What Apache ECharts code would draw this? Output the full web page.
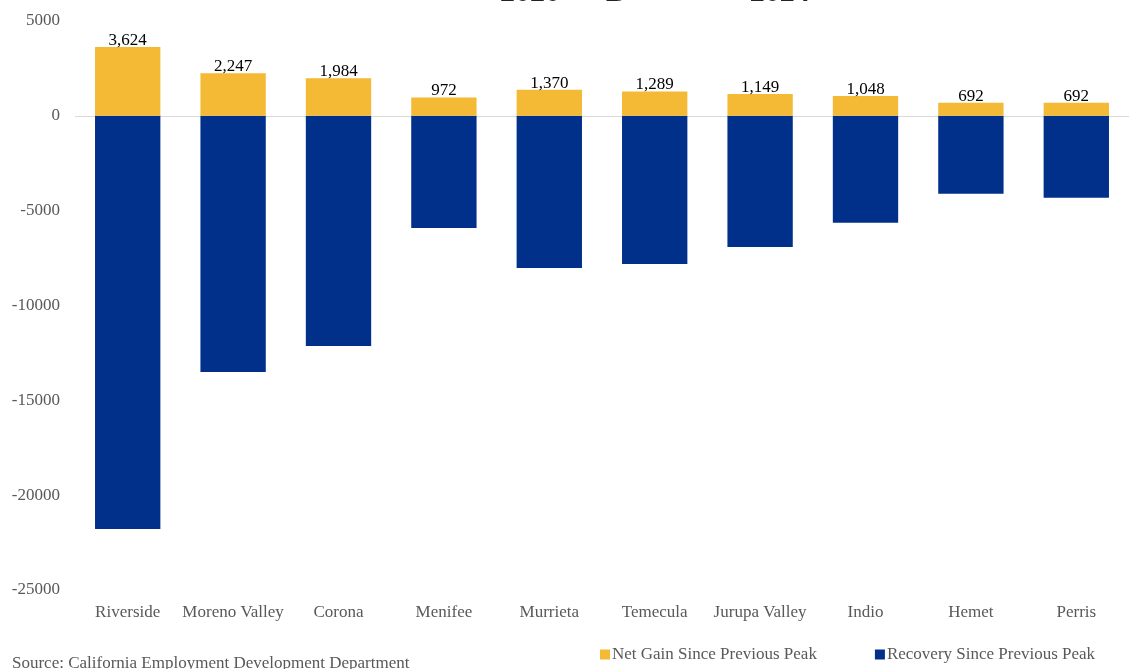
<!DOCTYPE html>
<html>
<head>
<meta charset="utf-8">
<script src="https://cdn.jsdelivr.net/npm/echarts@6/dist/echarts.min.js"></script>
<style>
  html, body { margin: 0; padding: 0; background: #fff; }
  #chart { width: 1129px; height: 669px; }
</style>
</head>
<body>
<div id="chart"></div>
<script>
// Cities ranked along the x axis
const cities = ['Riverside', 'Moreno Valley', 'Corona', 'Menifee', 'Murrieta', 'Temecula', 'Jurupa Valley', 'Indio', 'Hemet', 'Perris'];
// Jobs gained beyond the previous peak
const netGain = [3624, 2247, 1984, 972, 1370, 1289, 1149, 1048, 692, 692];
// Jobs recovered to get back to the previous peak (drawn below zero)
const recovery = [-21780, -13500, -12130, -5910, -8020, -7810, -6910, -5640, -4110, -4320];
// Value axis range
const yTicks = { min: -25000, max: 5000, step: 5000 };

const SERIF = '"Liberation Serif", "DejaVu Serif", serif';
const GOLD = '#F4B935';
const NAVY = '#00308A';
const GREY = '#595959';

const chart = echarts.init(document.getElementById('chart'));
chart.setOption({
  backgroundColor: '#ffffff',
  animation: false,
  title: {
    text: '{b|2020 }{s|TO }{b|D}{s|ECEMBER }{b|2024}',
    left: 495,
    top: -27,
    textStyle: {
      rich: {
        b: { fontFamily: SERIF, fontSize: 30, fontWeight: 'bold', color: '#222' },
        s: { fontFamily: SERIF, fontSize: 23, fontWeight: 'bold', color: '#222' }
      }
    }
  },
  grid: { left: 75, right: -15, top: 21, bottom: 79, containLabel: false },
  legend: {
    data: ['Net Gain Since Previous Peak', 'Recovery Since Previous Peak'],
    left: 595,
    top: 641,
    itemWidth: 10,
    itemHeight: 10,
    itemGap: 58,
    icon: 'rect',
    textStyle: { fontFamily: SERIF, fontSize: 17, color: GREY, padding: [0, 0, 0, -3] }
  },
  xAxis: {
    type: 'category',
    data: cities,
    axisLine: { show: false },
    axisTick: { show: false },
    axisLabel: { fontFamily: SERIF, fontSize: 17, color: GREY, margin: 14, interval: 0 },
    position: 'bottom'
  },
  yAxis: {
    type: 'value',
    min: yTicks.min,
    max: yTicks.max,
    interval: yTicks.step,
    axisLine: { show: false },
    axisTick: { show: false },
    splitLine: { show: false },
    axisLabel: { fontFamily: SERIF, fontSize: 17, color: GREY, margin: 15, padding: [3, 0, 0, 0], formatter: v => String(v) }
  },
  graphic: [
    {
      type: 'text',
      left: 12,
      top: 655,
      style: { text: 'Source: California Employment Development Department', fontFamily: SERIF, fontSize: 17, fill: GREY }
    }
  ],
  series: [
    {
      name: 'Recovery Since Previous Peak',
      type: 'bar',
      stack: 'jobs',
      data: recovery,
      barWidth: '62%',
      itemStyle: { color: NAVY },
      markLine: {
        silent: true,
        symbol: 'none',
        label: { show: false },
        lineStyle: { color: '#D9D9D9', type: 'solid', width: 1 },
        data: [{ yAxis: 0 }],
        z: 1
      }
    },
    {
      name: 'Net Gain Since Previous Peak',
      type: 'bar',
      stack: 'jobs',
      data: netGain,
      barWidth: '62%',
      itemStyle: { color: GOLD },
      label: {
        show: true,
        position: 'top',
        distance: -2,
        fontFamily: SERIF,
        fontSize: 17,
        color: '#000',
        formatter: p => p.value.toLocaleString('en-US')
      }
    }
  ]
});
</script>
</body>
</html>
